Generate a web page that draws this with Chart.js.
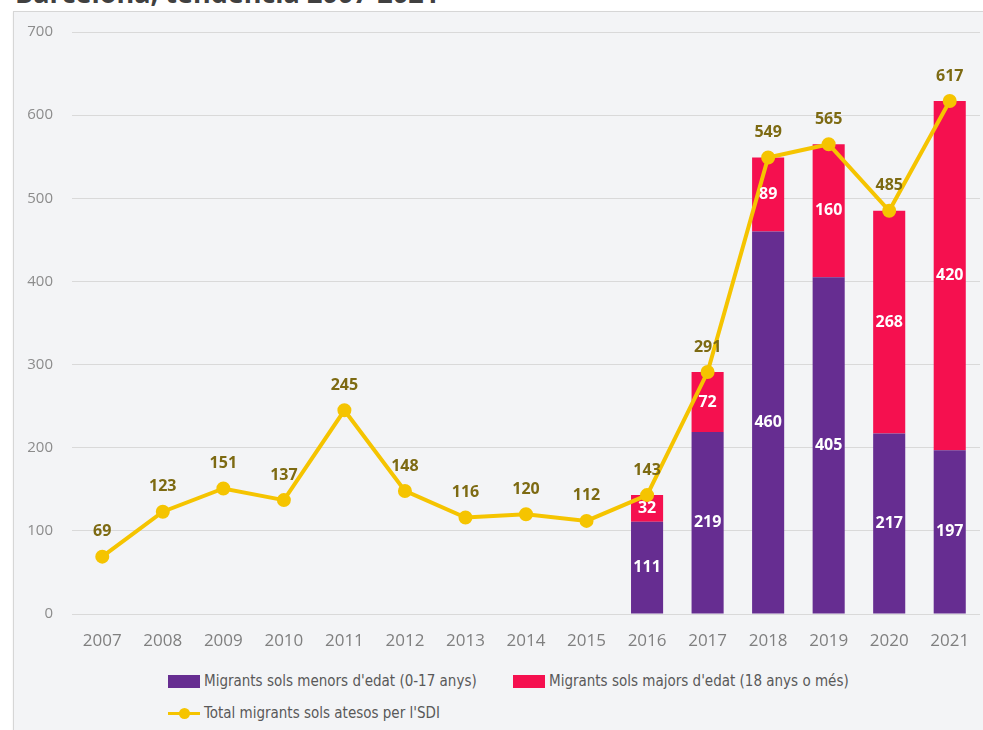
<!DOCTYPE html>
<html>
<head>
<meta charset="utf-8">
<script src="https://cdn.jsdelivr.net/npm/chart.js@4/dist/chart.umd.min.js"></script>
<style>
    body { margin: 0; background: #fff; width: 983px; height: 730px; overflow: hidden; position: relative; font-family: 'Open Sans', sans-serif; }
    #title { position: absolute; left: 15px; top: -24px; font-size: 27px; font-weight: bold; color: #404040; white-space: nowrap; line-height: 33px; }
    #panel { position: absolute; left: 13px; top: 11px; width: 970px; height: 719px; overflow: hidden; background: #f3f4f6; border-top: 1px solid #d6d6d6; border-left: 1px solid #d6d6d6; box-shadow: 0 1px 2px rgba(0,0,0,0.08); }
    #panel canvas { position: absolute; left: 0; top: 0; }
    #legend { position: absolute; left: 0; top: 0; font-family: 'DejaVu Sans Condensed', 'DejaVu Sans', sans-serif; font-stretch: condensed; font-size: 15px; color: #595959; }
    .item { position: absolute; white-space: nowrap; display: flex; align-items: center; height: 18px; }
    .box { display: inline-block; width: 32px; height: 13px; margin-right: 4px; }
    .lineKey { display: inline-block; width: 32px; height: 13px; margin-right: 4px; position: relative; }
</style>
</head>
<body>
<div id="title">Barcelona, tendència 2007-2021</div>
<div id="panel">
    <canvas id="chart" width="975" height="650"></canvas>
    <div id="legend"></div>
</div>
<script>
const years = ['2007', '2008', '2009', '2010', '2011', '2012', '2013', '2014', '2015', '2016', '2017', '2018', '2019', '2020', '2021'];
const minors = [null, null, null, null, null, null, null, null, null, 111, 219, 460, 405, 217, 197];
const adults = [null, null, null, null, null, null, null, null, null, 32, 72, 89, 160, 268, 420];
const totals = [69, 123, 151, 137, 245, 148, 116, 120, 112, 143, 291, 549, 565, 485, 617];
const seriesNames = [
    "Migrants sols menors d'edat (0-17 anys)",
    "Migrants sols majors d'edat (18 anys o més)",
    "Total migrants sols atesos per l'SDI",
];

const purple = '#662d91';
const pink = '#f5104f';
const gold = '#f5c400';

// value labels drawn on top of the bars and the line
const valueLabels = {
    id: 'valueLabels',
    afterDatasetsDraw(chart) {
        const ctx = chart.ctx;
        ctx.save();
        ctx.textAlign = 'center';
        ctx.textBaseline = 'middle';
        ctx.font = 'bold 16px "Open Sans"';
        chart.data.datasets.forEach((ds, i) => {
            const meta = chart.getDatasetMeta(i);
            meta.data.forEach((el, j) => {
                const v = ds.data[j];
                if (v == null) return;
                if (ds.type === 'line') {
                    ctx.fillStyle = '#7d6a12';
                    ctx.fillText(v, el.x, el.y - 25);
                } else {
                    ctx.fillStyle = '#ffffff';
                    ctx.fillText(v, el.x, (el.y + el.base) / 2);
                }
            });
        });
        ctx.restore();
    },
};

// keep the plot area exactly where the layout padding puts it
const noEdgePadding = s => {
    s.paddingTop = 0;
    s.paddingBottom = 0;
    s.paddingLeft = 0;
    s.paddingRight = 0;
};

const chart = new Chart(document.getElementById('chart'), {
    data: {
        labels: years,
        datasets: [
            {
                type: 'line',
                label: seriesNames[2],
                data: totals,
                borderColor: gold,
                backgroundColor: gold,
                borderWidth: 4,
                pointRadius: 5,
                pointHoverRadius: 5,
                tension: 0,
                order: 0,
            },
            {
                type: 'bar',
                label: seriesNames[0],
                data: minors,
                backgroundColor: purple,
                categoryPercentage: 0.53,
                barPercentage: 1,
                order: 1,
            },
            {
                type: 'bar',
                label: seriesNames[1],
                data: adults,
                backgroundColor: pink,
                categoryPercentage: 0.53,
                barPercentage: 1,
                order: 1,
            },
        ],
    },
    options: {
        responsive: false,
        animation: false,
        layout: { padding: { left: 13, right: 0, top: 20, bottom: 0 } },
        plugins: {
            legend: { display: false },
            tooltip: { enabled: false },
        },
        scales: {
            x: {
                stacked: true,
                grid: { display: false, drawTicks: false },
                border: { display: false },
                ticks: { color: '#7f7f7f', font: { family: 'Open Sans', size: 17 }, padding: 17 },
                afterFit: s => { s.height = 48; noEdgePadding(s); },
            },
            y: {
                stacked: true,
                min: 0,
                max: 700,
                grid: { color: '#d9d9d9', lineWidth: 1, drawTicks: false },
                border: { display: false },
                ticks: { stepSize: 100, color: '#8c8c8c', font: { family: 'Open Sans', size: 15 }, padding: 19 },
                afterFit: s => { s.width = 45; noEdgePadding(s); },
            },
        },
    },
    plugins: [valueLabels],
});

// legend laid out like the original: two items on the first row, one below
const legend = document.getElementById('legend');
const spots = [[154, 660], [499, 660], [154, 692]];
const order = [1, 2, 0];
order.forEach((di, k) => {
    const ds = chart.data.datasets[di];
    const item = document.createElement('div');
    item.className = 'item';
    item.style.left = spots[k][0] + 'px';
    item.style.top = spots[k][1] + 'px';
    const key = document.createElement('span');
    if (ds.type === 'line') {
        key.className = 'lineKey';
        key.innerHTML =
            '<i style="position:absolute;left:0;right:0;top:5px;height:3px;background:' + ds.borderColor + '"></i>' +
            '<i style="position:absolute;left:11px;top:1px;width:11px;height:11px;border-radius:50%;background:' + ds.borderColor + '"></i>';
    } else {
        key.className = 'box';
        key.style.background = ds.backgroundColor;
    }
    item.appendChild(key);
    item.appendChild(document.createTextNode(ds.label));
    legend.appendChild(item);
});
</script>
</body>
</html>
